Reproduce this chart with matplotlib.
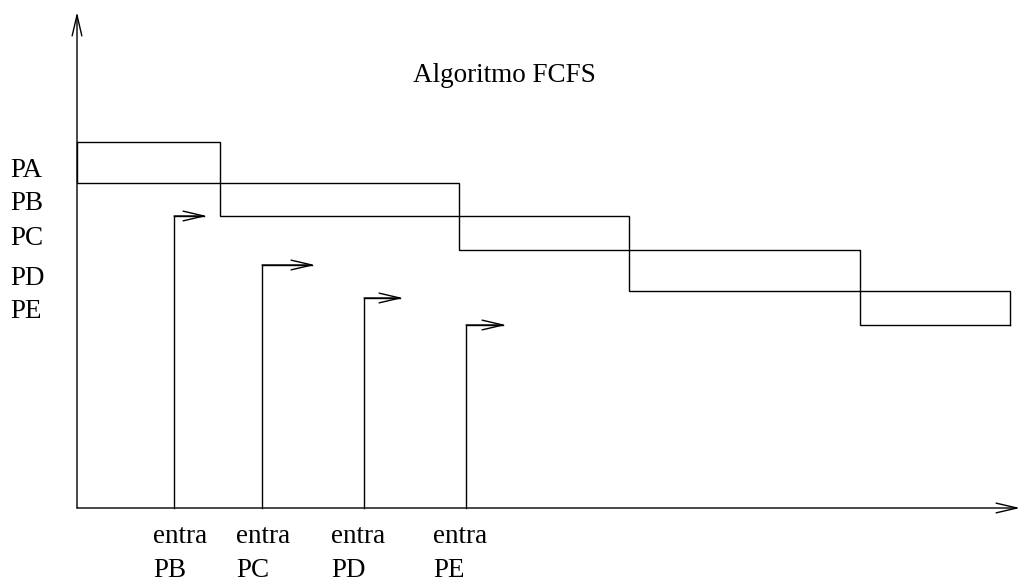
import matplotlib
matplotlib.use("Agg")
import matplotlib.pyplot as plt

# Diagram data (in canvas units, origin top-left)
proc_labels = ["PA", "PB", "PC", "PD", "PE"]
proc_label_base = [177, 210, 245, 285, 318]

# upper step line (running process boundary)
top_x = [77, 220, 220, 629, 629, 1010, 1010]
top_y = [142, 142, 216, 216, 291, 291, 325]
# lower step line
bot_x = [77, 77, 459, 459, 860, 860, 1010]
bot_y = [142, 183, 183, 250, 250, 325, 325]

# arrivals
arrival_names = ["PB", "PC", "PD", "PE"]
arrival_x = [174, 262, 364, 466]
arrival_y = [216, 265, 298, 325]
arrival_end = [207, 315, 403, 506]
label_left = [153, 236, 331, 433]

axis_origin = (77, 508)
axis_xend = 1020
axis_ytop = 12

fig = plt.figure(figsize=(10.21, 5.85), dpi=100)
ax = fig.add_axes([0, 0, 1, 1])
ax.set_xlim(0, 1021)
ax.set_ylim(585, 0)
ax.axis("off")

lw = 1.0
serif = ["Liberation Serif", "DejaVu Serif"]
fs = 19.5

# axes arrows
arrow_kw = dict(arrowstyle="->,head_length=1.5,head_width=0.35", lw=lw, color="black",
                shrinkA=0, shrinkB=0)
ax.annotate("", xy=(axis_origin[0], axis_ytop), xytext=axis_origin, arrowprops=arrow_kw)
ax.annotate("", xy=(axis_xend, axis_origin[1]), xytext=axis_origin, arrowprops=arrow_kw)

# step lines
ax.plot(top_x, top_y, color="black", lw=lw, solid_joinstyle="miter")
ax.plot(bot_x, bot_y, color="black", lw=lw, solid_joinstyle="miter")

# arrival arrows
for x, y, xe in zip(arrival_x, arrival_y, arrival_end):
    ax.plot([x, x, xe - 3], [axis_origin[1], y, y], color="black", lw=lw, solid_joinstyle="miter")
    ax.annotate("", xy=(xe, y), xytext=(x, y), arrowprops=arrow_kw)

# process labels
for lab, y in zip(proc_labels, proc_label_base):
    ax.text(10, y, lab, fontsize=fs, family=serif, va="baseline", ha="left")

# arrival labels
for name, xl in zip(arrival_names, label_left):
    ax.text(xl, 543, "entra", fontsize=fs, family=serif, va="baseline", ha="left")
    ax.text(xl, 577, name, fontsize=fs, family=serif, va="baseline", ha="left")

ax.text(504, 82, "Algoritmo FCFS", fontsize=fs, family=serif, va="baseline", ha="center")

fig.savefig("out.png", dpi=100)
